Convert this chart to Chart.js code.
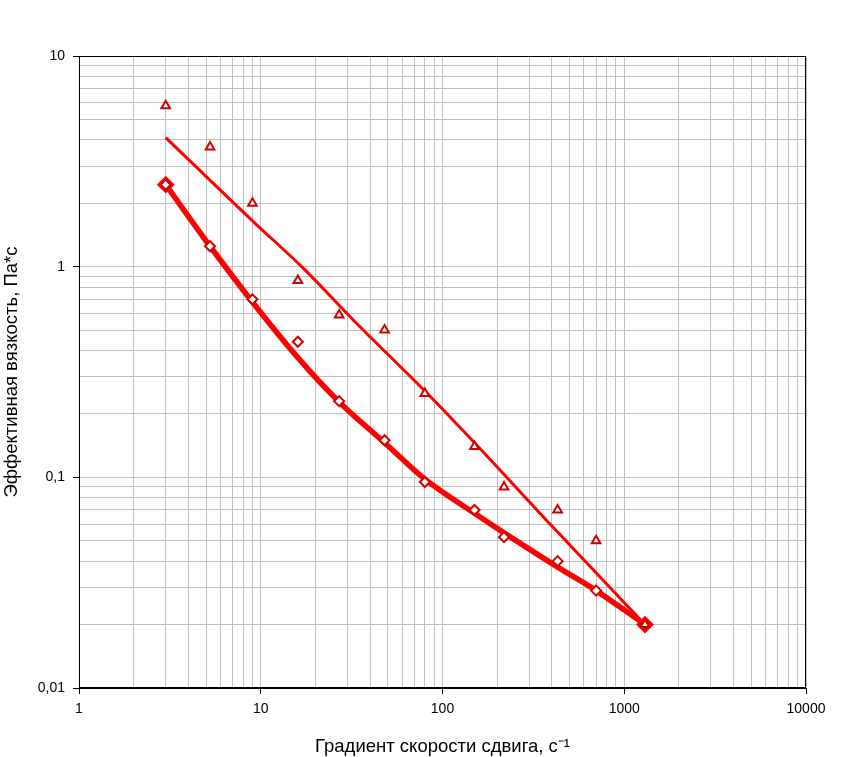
<!DOCTYPE html>
<html>
<head>
<meta charset="utf-8">
<script src="https://cdn.jsdelivr.net/npm/chart.js@4/dist/chart.umd.min.js"></script>
<style>
  html, body { margin: 0; padding: 0; background: #ffffff; }
  #wrap { width: 855px; height: 757px; }
</style>
</head>
<body>
<div id="wrap"><canvas id="c" width="855" height="757"></canvas></div>
<script>
// Shear rate (x) values of the measured points
const shearRate = [3, 5.26, 9, 16, 27, 48, 80, 150, 218, 430, 700, 1300];
// Triangle series (effective viscosity, Pa*s)
const viscTriangle = [5.8, 3.7, 2.0, 0.86, 0.59, 0.5, 0.25, 0.14, 0.09, 0.07, 0.05, 0.02];
// Diamond series
const viscDiamond = [2.45, 1.25, 0.7, 0.44, 0.23, 0.15, 0.095, 0.07, 0.052, 0.04, 0.029, 0.02];
// Upper (thin) curve
const upperCurveX = [3, 9, 17, 35, 80, 150, 400, 1300];
const upperCurveY = [4.1, 1.65, 0.99, 0.52, 0.257, 0.146, 0.0587, 0.02];
// Lower (thick) curve, at shearRate positions
const lowerCurveY = [2.45, 1.25, 0.68, 0.37, 0.228, 0.146, 0.098, 0.0675, 0.0545, 0.0375, 0.029, 0.02];
// Tick values (grid lines) and labelled ticks
const xTickValues = [1,2,3,4,5,6,7,8,9,10,20,30,40,50,60,70,80,90,100,200,300,400,500,600,700,800,900,1000,2000,3000,4000,5000,6000,7000,8000,9000,10000];
const yTickValues = [0.01,0.02,0.03,0.04,0.05,0.06,0.07,0.08,0.09,0.1,0.2,0.3,0.4,0.5,0.6,0.7,0.8,0.9,1,2,3,4,5,6,7,8,9,10];
const xMajorLabels = {1: '1', 10: '10', 100: '100', 1000: '1000', 10000: '10000'};
const yMajorLabels = {0.01: '0,01', 0.1: '0,1', 1: '1', 10: '10'};
const xTitle = 'Градиент скорости сдвига, с⁻¹';
const yTitle = 'Эффективная вязкость, Па*с';

const FONT = '"Liberation Sans", Arial, sans-serif';

const pts = (xs, ys) => xs.map((x, i) => ({x: x, y: ys[i]}));

const borderPlugin = {
  id: 'plotBorder',
  beforeDatasetsDraw(chart) {
    const a = chart.chartArea, ctx = chart.ctx;
    ctx.save();
    ctx.strokeStyle = '#000000';
    ctx.lineWidth = 1;
    ctx.strokeRect(Math.round(a.left) + 0.5, Math.round(a.top) + 0.5, Math.round(a.right - a.left) - 1, Math.round(a.bottom - a.top) - 1);
    ctx.restore();
  }
};

new Chart(document.getElementById('c'), {
  type: 'scatter',
  data: {
    datasets: [
      {
        label: 'triangles',
        data: pts(shearRate, viscTriangle),
        showLine: false,
        pointStyle: 'triangle',
        pointRadius: 5,
        pointBorderWidth: 2,
        pointBorderColor: '#d00000',
        pointBackgroundColor: '#ffffff'
      },
      {
        label: 'diamonds',
        data: pts(shearRate, viscDiamond),
        showLine: false,
        pointStyle: 'rectRot',
        pointRadius: 5,
        pointBorderWidth: 2,
        pointBorderColor: '#d00000',
        pointBackgroundColor: '#ffffff'
      },
      {
        label: 'upper curve',
        data: pts(upperCurveX, upperCurveY),
        showLine: true,
        borderColor: '#ff0000',
        borderWidth: 3,
        pointRadius: 0,
        cubicInterpolationMode: 'monotone',
        fill: false
      },
      {
        label: 'lower curve',
        data: pts(shearRate, lowerCurveY),
        showLine: true,
        borderColor: '#ff0000',
        borderWidth: 5.5,
        pointRadius: shearRate.map((v, i) => (i === 0 || i === shearRate.length - 1) ? 5 : 0),
        pointStyle: 'rectRot',
        pointBackgroundColor: '#ff0000',
        pointBorderColor: '#ff0000',
        cubicInterpolationMode: 'monotone',
        fill: false
      }
    ]
  },
  options: {
    responsive: false,
    animation: false,
    devicePixelRatio: 1,
    layout: { padding: { top: 56, right: 49, left: 0, bottom: 0 } },
    plugins: {
      legend: { display: false },
      tooltip: { enabled: false }
    },
    scales: {
      x: {
        type: 'logarithmic',
        min: 1,
        max: 10000,
        afterBuildTicks: (scale) => { scale.ticks = xTickValues.map(v => ({value: v})); },
        afterFit: (scale) => { scale.height = 69; },
        border: { display: true, color: '#000000', width: 1 },
        grid: {
          color: '#c0c0c0',
          lineWidth: 1,
          drawTicks: true,
          tickLength: 6,
          tickColor: (ctx) => (ctx.tick && xMajorLabels[ctx.tick.value] !== undefined) ? '#000000' : 'rgba(0,0,0,0)'
        },
        ticks: {
          autoSkip: false,
          maxRotation: 0,
          padding: 7,
          color: '#000000',
          font: { family: FONT, size: 14 },
          callback: (v) => xMajorLabels[v] !== undefined ? xMajorLabels[v] : ''
        },
        title: {
          display: true,
          text: xTitle,
          color: '#000000',
          font: { family: FONT, size: 18.5 },
          padding: { top: 0, bottom: -1 }
        }
      },
      y: {
        type: 'logarithmic',
        min: 0.01,
        max: 10,
        afterBuildTicks: (scale) => { scale.ticks = yTickValues.map(v => ({value: v})); },
        afterFit: (scale) => { scale.width = 79; },
        border: { display: true, color: '#000000', width: 1 },
        grid: {
          color: '#c0c0c0',
          lineWidth: 1,
          drawTicks: true,
          tickLength: 6,
          tickColor: (ctx) => (ctx.tick && yMajorLabels[ctx.tick.value] !== undefined) ? '#000000' : 'rgba(0,0,0,0)'
        },
        ticks: {
          autoSkip: false,
          padding: 8,
          color: '#000000',
          font: { family: FONT, size: 14 },
          callback: (v) => yMajorLabels[v] !== undefined ? yMajorLabels[v] : ''
        },
        title: {
          display: true,
          text: yTitle,
          color: '#000000',
          font: { family: FONT, size: 18.5 },
          padding: { top: 1, bottom: 0 }
        }
      }
    }
  },
  plugins: [borderPlugin]
});
</script>
</body>
</html>
